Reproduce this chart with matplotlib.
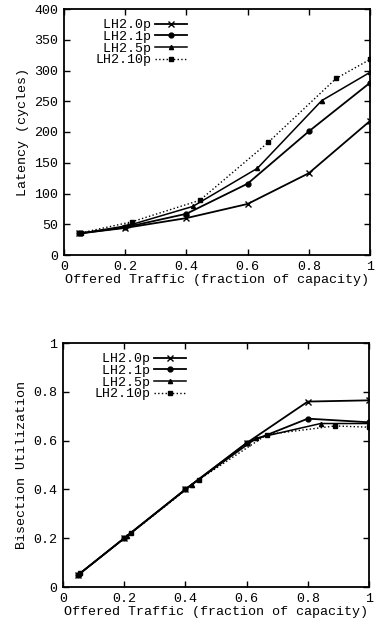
import matplotlib
matplotlib.use("Agg")
import matplotlib.pyplot as plt
from matplotlib.ticker import FuncFormatter

# ---- data ----
labels = ["LH2.0p", "LH2.1p", "LH2.5p", "LH2.10p"]
x_0p = [0.05, 0.2, 0.4, 0.6, 0.8, 1.0]
x_1p = [0.05, 0.2, 0.4, 0.6, 0.8, 1.0]
x_5p = [0.0526, 0.2105, 0.421, 0.632, 0.842, 1.0]
x_10p = [0.0556, 0.222, 0.444, 0.667, 0.889, 1.0]

lat_0p = [35, 44, 60, 83, 133, 218]
lat_1p = [35, 45, 67, 116, 201, 280]
lat_5p = [35, 48, 79, 141, 251, 297]
lat_10p = [36, 54, 89, 183, 287, 318]

util_0p = [0.05, 0.2, 0.4, 0.59, 0.76, 0.765]
util_1p = [0.05, 0.2, 0.4, 0.59, 0.69, 0.675]
util_5p = [0.053, 0.21, 0.42, 0.61, 0.67, 0.67]
util_10p = [0.056, 0.22, 0.44, 0.625, 0.66, 0.655]

lat_yticks = [0, 50, 100, 150, 200, 250, 300, 350, 400]
util_yticks = [0, 0.2, 0.4, 0.6, 0.8, 1]
xticks = [0, 0.2, 0.4, 0.6, 0.8, 1]

plt.rcParams['font.family'] = ['Liberation Mono', 'DejaVu Sans Mono']
plt.rcParams['font.size'] = 9.6

fig = plt.figure(figsize=(3.75, 6.25), dpi=100)
ax1 = fig.add_axes([0.1707, 0.592, 0.816, 0.3936])
ax2 = fig.add_axes([0.168, 0.0608, 0.816, 0.3904])

styles = [
    dict(marker='x', ms=4, ls='-', lw=1.3, mew=1.0),
    dict(marker='o', ms=3.5, ls='-', lw=1.3),
    dict(marker='^', ms=3, ls='-', lw=1.1),
    dict(marker='s', ms=2.5, ls=':', lw=1.0),
]

width = max(len(l) for l in labels)
pad_labels = [l.rjust(width) for l in labels]

def setup(ax, xs, ys, yticks, ylim, ylabel):
    for x, y, st, lab in zip(xs, ys, styles, pad_labels):
        ax.plot(x, y, color='black', label=lab, **st)
    ax.set_xlim(0, 1)
    ax.set_ylim(*ylim)
    ax.set_xticks(xticks)
    ax.set_yticks(yticks)
    fmt = FuncFormatter(lambda v, p: f"{v:g}")
    ax.xaxis.set_major_formatter(fmt)
    ax.yaxis.set_major_formatter(fmt)
    ax.tick_params(direction='in', top=True, right=True, length=4, width=1, pad=4)
    for s in ax.spines.values():
        s.set_linewidth(1.3)
    ax.set_xlabel("Offered Traffic (fraction of capacity)", labelpad=1)
    ax.set_ylabel(ylabel, labelpad=4)
    leg = ax.legend(loc='upper left', bbox_to_anchor=(0.07, 1.0), frameon=False,
                    markerfirst=False, handlelength=2.4, handletextpad=0.3,
                    labelspacing=-0.05, borderaxespad=0.35)
    return leg

setup(ax1, [x_0p, x_1p, x_5p, x_10p], [lat_0p, lat_1p, lat_5p, lat_10p],
      lat_yticks, (0, 400), "Latency (cycles)")
setup(ax2, [x_0p, x_1p, x_5p, x_10p], [util_0p, util_1p, util_5p, util_10p],
      util_yticks, (0, 1), "Bisection Utilization")

fig.savefig("out.png", dpi=100)
